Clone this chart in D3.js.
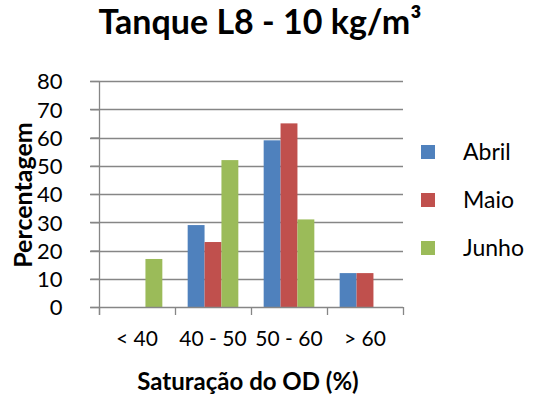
<!DOCTYPE html>
<html>
<head>
<meta charset="utf-8">
<script src="https://cdn.jsdelivr.net/npm/d3@7"></script>
<style>
  body { margin: 0; background: #fff; }
  text { font-family: Lato, "Open Sans", sans-serif; fill: #000; }
</style>
</head>
<body>
<svg width="533" height="404"></svg>
<script>
var categories = ["< 40", "40 - 50", "50 - 60", "> 60"];
var seriesNames = ["Abril", "Maio", "Junho"];
var abril = [0, 29, 59, 12];
var maio  = [0, 23, 65, 12];
var junho = [17, 52, 31, 0];
var yTicks = [0, 10, 20, 30, 40, 50, 60, 70, 80];
var colors = ["#4F81BD", "#C0504D", "#9BBB59"];

var series = [abril, maio, junho];

var svg     = d3.select("svg"),
    pLeft   = 99,
    pRight  = 403,
    pTop    = 81,
    pBottom = 307,
    gridCol = "#868686";

var x = d3.scaleBand()
      .domain(categories)
      .range([pLeft, pRight])
      .paddingInner(0)
      .paddingOuter(0),
    inner = d3.scaleBand()
      .domain(seriesNames)
      .range([0, x.bandwidth()])
      .paddingInner(0)
      .paddingOuter(0.75),
    y = d3.scaleLinear()
      .domain([0, 80])
      .range([pBottom, pTop]);

// grid
svg.append("g")
  .selectAll("line")
  .data(yTicks.slice(1))
  .enter().append("line")
    .attr("x1", pLeft - 9)
    .attr("x2", pRight)
    .attr("y1", d => Math.round(y(d)) + 0.5)
    .attr("y2", d => Math.round(y(d)) + 0.5)
    .attr("stroke", gridCol)
    .attr("stroke-width", 1.3);

// bars
var rows = categories.map((c, i) => ({cat: c, vals: series.map((s, j) => ({name: seriesNames[j], v: s[i], c: colors[j]}))}));
var groups = svg.append("g")
  .selectAll("g")
  .data(rows)
  .enter().append("g")
    .attr("transform", d => "translate(" + x(d.cat) + ",0)");

groups.selectAll("rect")
  .data(d => d.vals.filter(v => v.v > 0))
  .enter().append("rect")
    .attr("x", d => inner(d.name))
    .attr("width", inner.bandwidth())
    .attr("y", d => y(d.v))
    .attr("height", d => y(0) - y(d.v))
    .attr("fill", d => d.c);

// y axis
var yAxis = svg.append("g")
  .attr("transform", "translate(" + (pLeft + 0.5) + ",0)")
  .call(d3.axisLeft(y).tickValues(yTicks).tickSize(9).tickPadding(28));
yAxis.select(".domain").attr("stroke", gridCol).attr("stroke-width", 1.3).attr("d", "M0," + pTop + "V" + (pBottom + 8));
yAxis.selectAll(".tick line").attr("stroke", gridCol).attr("stroke-width", 1.3);
yAxis.selectAll(".tick text").attr("font-size", 22).attr("font-family", "Lato").attr("fill", "#000").attr("dy", "0.36em");

// x axis
var xAxis = svg.append("g")
  .attr("transform", "translate(0," + (pBottom + 0.5) + ")")
  .call(d3.axisBottom(x).tickSize(0).tickPadding(24));
xAxis.select(".domain").attr("stroke", gridCol).attr("stroke-width", 1.3).attr("d", "M" + (pLeft - 9) + ",0H" + pRight);
xAxis.selectAll(".tick text").attr("font-size", 21).attr("font-family", "Lato").attr("fill", "#000");

svg.append("g")
  .selectAll("line")
  .data(categories.map(c => x(c)).concat([pRight]))
  .enter().append("line")
    .attr("x1", d => Math.round(d) + 0.5)
    .attr("x2", d => Math.round(d) + 0.5)
    .attr("y1", pBottom)
    .attr("y2", pBottom + 8)
    .attr("stroke", gridCol)
    .attr("stroke-width", 1.3);

// titles
svg.append("text")
  .attr("x", 260)
  .attr("y", 34)
  .attr("text-anchor", "middle")
  .attr("font-size", 34)
  .attr("font-weight", "bold")
  .text("Tanque L8 - 10 kg/m³");

svg.append("text")
  .attr("x", 248)
  .attr("y", 390)
  .attr("text-anchor", "middle")
  .attr("font-size", 24)
  .attr("font-weight", "bold")
  .text("Saturação do OD (%)");

svg.append("text")
  .attr("transform", "translate(32,195) rotate(-90)")
  .attr("text-anchor", "middle")
  .attr("font-size", 25)
  .attr("font-weight", "bold")
  .text("Percentagem");

// legend
var legend = svg.append("g")
  .selectAll("g")
  .data(seriesNames)
  .enter().append("g")
    .attr("transform", (d, i) => "translate(421," + (145 + i * 48) + ")");

legend.append("rect")
  .attr("width", 14)
  .attr("height", 14)
  .attr("fill", (d, i) => colors[i]);

legend.append("text")
  .attr("x", 42)
  .attr("y", 7)
  .attr("dy", "0.36em")
  .attr("font-size", 23)
  .text(d => d);
</script>
</body>
</html>
